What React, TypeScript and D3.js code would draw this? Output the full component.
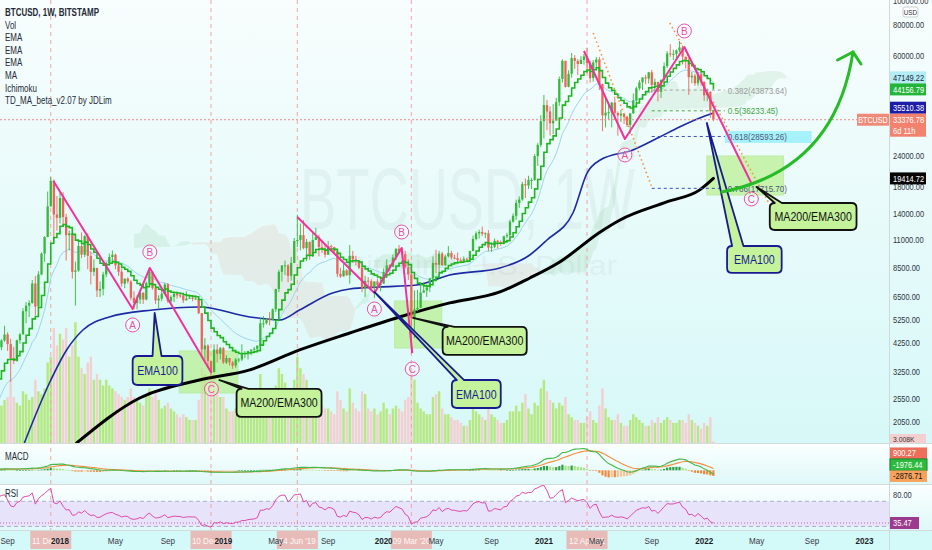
import React from "react";
import * as d3 from "d3";

const FONT = "'Liberation Sans', Arial, sans-serif";
const W = 932;
const H = 550;
const AXIS_X = 889;
const PRICE_BOTTOM = 443;
const MACD_TOP = 444;
const MACD_BOTTOM = 484;
const RSI_TOP = 485;
const RSI_BOTTOM = 530;

const toDate = (s: string) => d3.utcParse("%Y-%m-%d")(s) as Date;

// ---------------- DATA ----------------
// weekly closes before the visible window (used only to warm up indicators)
const historyStart = "2017-01-02";
const historyCloses = [910, 820, 920, 915, 1020, 1000, 1050, 1180, 1270, 1230, 960, 960, 1080, 1190, 1170, 1240, 1340, 1560, 1780, 2050, 2200, 2550, 2950, 2500, 2580, 2500, 2500, 1900, 2750, 2740, 3250, 4050];

// weekly candles [high, low, close]; open = previous close
const start2017 = "2017-08-14";
const hlc2017 = [
  [4480, 3950, 4090], [4400, 3980, 4350], [4980, 4300, 4600], [4690, 3950, 4210], [4420, 2970, 3690],
  [4100, 3500, 3600], [4380, 3580, 4360], [4660, 4220, 4600], [5860, 4600, 5700], [6200, 5100, 6000],
  [6300, 5400, 6150], [7600, 6100, 7360], [7880, 5500, 5950], [8250, 5850, 8000], [9800, 7950, 9700],
  [11400, 9000, 11300], [17200, 11300, 15000], [19666, 15200, 19000], [19200, 11000, 13900], [16500, 12000, 13500],
];
const vol2017 = [70, 65, 75, 80, 110, 80, 70, 65, 90, 85, 75, 80, 110, 90, 85, 95, 140, 150, 200, 170];

const start2018 = "2018-01-01";
const hlc2018 = [
  [17200, 12800, 16200], [17100, 12700, 13600], [14000, 9100, 11500], [12000, 10000, 11700], [11800, 7700, 8200],
  [9000, 6000, 8300], [10900, 8200, 10400], [11800, 9300, 9600], [11500, 9400, 11400],
  [11700, 8400, 9500], [9900, 7300, 8200], [9200, 7900, 8500], [8500, 6500, 6900],
  [7500, 6500, 7000], [8200, 6600, 8000], [9000, 7800, 8900], [9700, 8700, 9400], [9990, 9000, 9600],
  [9700, 8400, 8700], [8900, 7900, 8200], [8400, 7150, 7350], [7700, 7050, 7700],
  [7800, 7350, 7500], [7600, 6300, 6450], [6850, 5800, 6150], [6600, 5800, 6350],
  [6900, 6100, 6750], [6800, 6100, 6350], [7500, 6300, 7400], [8500, 7400, 8200], [8250, 6950, 7050],
  [7150, 6100, 6300], [6600, 5850, 6400], [6900, 6250, 6700], [7400, 6700, 7300],
  [7400, 6150, 6250], [6600, 6150, 6500], [6800, 6200, 6700], [6800, 6400, 6600],
  [6700, 6450, 6570], [6700, 6150, 6300], [6850, 6300, 6400], [6550, 6400, 6450], [6500, 6250, 6400],
  [6600, 6350, 6400], [6500, 5550, 5600], [5600, 3700, 4000], [4450, 3600, 4150],
  [4200, 3400, 3600], [3600, 3120, 3250], [4200, 3250, 4000], [4200, 3550, 3850], [4100, 3650, 4050],
];
const vol2018 = [190, 180, 200, 150, 170, 210, 150, 130, 120, 140, 150, 110, 120, 110, 100, 110, 100, 95, 90, 85, 80, 75, 80, 95, 80, 75, 70, 65, 85, 95, 80, 90, 75, 60, 65, 70, 60, 55, 50, 45, 50, 45, 40, 40, 40, 75, 130, 120, 110, 120, 130, 100, 80];

const start2019 = "2019-01-07";
const hlc2019 = [
  [4100, 3500, 3550], [3800, 3500, 3700], [3700, 3450, 3550], [3600, 3350, 3450],
  [3700, 3380, 3650], [3700, 3550, 3650], [4200, 3600, 3850], [3950, 3700, 3860],
  [3950, 3650, 3950], [4000, 3800, 4000], [4100, 3900, 4030], [4150, 3950, 4150],
  [5350, 4100, 5100], [5450, 4900, 5100], [5350, 5050, 5300], [5650, 5000, 5250], [5850, 5250, 5800],
  [7000, 5650, 7000], [8350, 6800, 8200], [8700, 7500, 8700], [9100, 7950, 8700],
  [8800, 7450, 7900], [9400, 7550, 8900], [11200, 8900, 10900], [13880, 10300, 11000],
  [12800, 10000, 11500], [13200, 10100, 10200], [11100, 9050, 10800], [10850, 9150, 9500], [11900, 9400, 11000],
  [12300, 11000, 11300], [11550, 9450, 10300], [10950, 9750, 10100], [10600, 9350, 9600],
  [10900, 9600, 10400], [10550, 9900, 10300], [10300, 9650, 9900], [10100, 7800, 8050], [8500, 7750, 7860],
  [8800, 7850, 8300], [8400, 7900, 7950], [10500, 7350, 9500], [9950, 8900, 9200],
  [9500, 8700, 9050], [9100, 8400, 8500], [8600, 6800, 7050], [7900, 6500, 7550],
  [7800, 7200, 7520], [7650, 7000, 7080], [7500, 6430, 7500], [7700, 7100, 7250], [7800, 6850, 7350],
];
const vol2019 = [80, 60, 55, 55, 60, 55, 75, 65, 55, 50, 50, 50, 120, 95, 70, 70, 75, 100, 130, 120, 105, 95, 85, 110, 150, 130, 120, 110, 85, 90, 85, 75, 65, 60, 60, 55, 50, 90, 75, 60, 55, 95, 70, 60, 55, 90, 85, 60, 55, 60, 50, 55];

const start2020 = "2020-01-06";
const hlc2020 = [
  [8450, 7700, 8180], [9200, 8100, 8700], [8800, 8250, 8600], [9600, 8550, 9350],
  [10150, 9150, 10150], [10500, 9700, 9900], [10250, 9300, 9650], [9950, 8450, 8550],
  [9200, 7600, 8000], [8150, 3850, 5350], [6900, 4450, 5800], [6950, 5700, 5880], [7250, 5900, 6770],
  [7450, 6750, 6900], [7300, 6500, 7100], [7750, 6800, 7700], [9450, 7600, 8900],
  [10050, 8100, 8750], [9950, 8200, 9700], [9850, 8650, 8720], [9600, 8650, 9450],
  [10400, 9350, 9750], [9950, 9200, 9350], [9600, 9200, 9300], [9800, 8900, 9130], [9350, 8950, 9070],
  [9450, 9050, 9250], [9350, 9000, 9170], [9950, 9150, 9930], [11450, 9950, 11100],
  [11900, 10950, 11680], [12100, 11150, 11850], [12450, 11400, 11650], [11800, 11200, 11700], [12050, 9900, 10250],
  [10650, 9850, 10330], [11150, 10200, 10920], [11000, 10150, 10780], [10950, 10400, 10680],
  [11450, 10550, 11380], [11750, 11200, 11500], [13250, 11350, 13030], [14050, 12900, 13750],
  [15950, 13250, 15480], [16450, 14800, 15980], [18800, 15800, 18420], [19400, 16200, 18200], [19900, 17600, 19150],
  [19450, 17600, 19150], [24300, 19000, 23850], [26900, 21800, 26450], [34800, 25900, 32900],
];
const vol2020 = [70, 60, 50, 60, 65, 60, 55, 75, 80, 130, 110, 70, 60, 55, 50, 50, 80, 85, 90, 60, 50, 50, 45, 40, 40, 35, 30, 30, 40, 75, 55, 50, 45, 40, 60, 50, 45, 40, 35, 35, 40, 55, 55, 65, 55, 70, 85, 60, 50, 70, 65, 95];

const start2021 = "2021-01-04";
const hlc2021 = [
  [41950, 28100, 38200], [40100, 30300, 36000], [37800, 28850, 32300], [38500, 29250, 33100],
  [40900, 33400, 39250], [49700, 37900, 48600], [58300, 47000, 57500], [57500, 44900, 45200],
  [52600, 45000, 51000], [61800, 49200, 59000], [60600, 53300, 57400], [58400, 50400, 55800], [60000, 56700, 58000],
  [61200, 55500, 59800], [64900, 51200, 56200], [57500, 47000, 49000], [57900, 47400, 56600],
  [59500, 53000, 58200], [59600, 43900, 46400], [46600, 30000, 34700], [40800, 31100, 35600], [39400, 33400, 35800],
  [39300, 31100, 39100], [41300, 33300, 35500], [36000, 28800, 34700], [36600, 32700, 35300],
  [35100, 32100, 34250], [34600, 31200, 31800], [35400, 29300, 35400], [42500, 35200, 39900],
  [45300, 37400, 44600], [48100, 43800, 47100], [49300, 43900, 49300], [50500, 46300, 48800], [51900, 46600, 51700],
  [52900, 42800, 46000], [48800, 43400, 47300], [47400, 39600, 43200], [48400, 40800, 48200],
  [56600, 47200, 54700], [62900, 53900, 61500], [67000, 59600, 61000], [63700, 57900, 61300],
  [63800, 58300, 63300], [69000, 62300, 65000], [66300, 55600, 59700], [59400, 53600, 57300], [59200, 42000, 49400],
  [51900, 46700, 50100], [51000, 45600, 46700], [51900, 45600, 50800], [52100, 45700, 47300],
];
const vol2021 = [110, 90, 75, 70, 60, 70, 65, 80, 50, 45, 40, 40, 35, 35, 45, 55, 40, 35, 65, 95, 60, 45, 40, 40, 50, 35, 30, 30, 40, 50, 45, 40, 35, 30, 30, 40, 35, 45, 35, 40, 45, 40, 35, 35, 40, 40, 35, 50, 40, 35, 30, 25];

const start2022 = "2022-01-03";
const hlc2022 = [[47600, 39700, 41800], [44500, 39600, 43100], [43500, 34000, 36300], [36600, 32900, 33376.78]];
const vol2022 = [35, 30, 45, 3.008];

// long moving averages: [week, value]
const ema100Points: [string, number][] = [
  ["2017-10-12", 1690], ["2017-12-08", 2939], ["2018-01-16", 3986], ["2018-02-22", 4793], ["2018-04-23", 5405],
  ["2018-07-30", 5764], ["2018-11-14", 5926], ["2019-03-08", 5405], ["2019-05-15", 5256], ["2019-06-29", 5764],
  ["2019-09-12", 6740], ["2019-10-21", 6999], ["2019-12-28", 7130], ["2020-03-21", 7259], ["2020-06-04", 7960],
  ["2020-09-26", 8495], ["2020-12-03", 9577], ["2021-01-11", 11001], ["2021-03-11", 14112], ["2021-04-12", 20408],
  ["2021-05-12", 23015], ["2021-07-25", 25236], ["2021-09-24", 28460], ["2021-11-08", 31213], ["2021-12-24", 33913],
  ["2022-01-24", 35510],
];
const ma200Points: [string, number][] = [
  ["2018-02-08", 1690], ["2018-07-01", 2559], ["2018-11-14", 3020], ["2019-03-08", 3316], ["2019-06-29", 3986],
  ["2019-10-21", 4662], ["2020-02-11", 5405], ["2020-06-04", 6153], ["2020-09-26", 6808], ["2020-12-03", 7745],
  ["2021-02-09", 8978], ["2021-05-12", 11843], ["2021-06-26", 13232], ["2021-10-10", 15625], ["2021-12-24", 17467],
  ["2022-01-24", 19414.72],
];

// ABC waves [week, price]
const waveLetters = ["", "A", "B", "C"];
const wave2018: [string, number][] = [["2017-12-17", 18957], ["2018-06-15", 5818], ["2018-07-24", 8494], ["2018-12-11", 3223]];
const wave2020: [string, number][] = [["2019-06-24", 13596], ["2019-12-16", 6740], ["2020-02-16", 10214], ["2020-03-11", 3876]];
const wave2022: [string, number][] = [["2021-04-05", 62940], ["2021-07-07", 27940], ["2021-11-19", 65300], ["2022-04-20", 18617]];

const fibTrend1: [string, number][] = [["2021-04-26", 74302], ["2021-09-06", 17937]];
const fibTrend2: [string, number][] = [["2021-10-17", 81490], ["2022-07-05", 11843]];
const fibRange = ["2021-09-06", "2022-02-19"];
const fibLevels = [0.382, 0.5, 0.618, 0.786];
const fibPrices = [43873.64, 36233.45, 28593.26, 17715.7];
const fibHighlight: [string, number][] = [["2022-02-19", 30075], ["2022-09-04", 26926]];

const zones: [string, number, string, number][] = [
  ["2018-09-29", 3949, "2019-02-09", 2680],
  ["2020-01-31", 6263, "2020-05-17", 4059],
  ["2022-01-09", 23880, "2022-07-02", 16660],
];

const callouts = [
  { text: "EMA100", kind: "ema", box: ["2018-06-15", 3770, "2018-10-06", 2885], tip: ["2018-08-04", 5606], base: [0.4, 0.58] },
  { text: "MA200/EMA300", kind: "ma", box: ["2019-02-06", 2782, "2019-08-18", 2148], tip: ["2018-12-29", 3020], base: [0, 0.14] },
  { text: "MA200/EMA300", kind: "ma", box: ["2020-05-19", 4928, "2020-11-26", 3806], tip: ["2020-03-13", 5354], base: [0, 0.14] },
  { text: "EMA100", kind: "ema", box: ["2020-06-09", 3020, "2020-09-28", 2333], tip: ["2019-12-16", 6808], base: [0, 0.25] },
  { text: "EMA100", kind: "ema", box: ["2022-02-24", 10406, "2022-06-28", 8112], tip: ["2022-01-09", 32376], base: [0.05, 0.3] },
  { text: "MA200/EMA300", kind: "ma", box: ["2022-06-01", 15477, "2022-12-15", 12063], tip: ["2022-05-02", 17937], base: [0, 0.14] },
];

const arrowCurve: [string, number][] = [["2022-02-12", 17132], ["2022-10-27", 20986], ["2022-12-07", 62350]];
const arrowWings: [string, number][] = [["2022-11-02", 57930], ["2022-12-25", 55830]];

const markerDates = ["2017-12-11", "2018-12-10", "2019-06-24", "2020-03-09", "2021-04-12"];
const markerLabels = ["11 Dec '17", "10 Dec '18", "24 Jun '19", "09 Mar '20", "12 Apr '21"];

const tickDates = ["2017-09-04", "2018-01-01", "2018-05-07", "2018-09-03", "2019-01-07", "2019-05-06", "2019-09-02", "2020-01-06", "2020-05-04", "2020-09-07", "2021-01-04", "2021-05-03", "2021-09-06", "2022-01-03", "2022-05-02", "2022-09-05", "2023-01-02"];
const tickLabels = ["Sep", "2018", "May", "Sep", "2019", "May", "Sep", "2020", "May", "Sep", "2021", "May", "Sep", "2022", "May", "Sep", "2023"];

const priceTicks = [100000, 80000, 60000, 24000, 18000, 14000, 11000, 8500, 6500, 5250, 4250, 3250, 2550, 2050];

const priceTags = [
  { v: 47149.22, bg: "#b4ecf4", fg: "#1b2a3a", sub: "" },
  { v: 44156.79, bg: "#22b53a", fg: "#ffffff", sub: "" },
  { v: 35510.38, bg: "#1c1ca6", fg: "#ffffff", sub: "" },
  { v: 33376.78, bg: "#f2826e", fg: "#ffffff", sub: "6d 11h" },
  { v: 19414.72, bg: "#050505", fg: "#ffffff", sub: "" },
];
const macdTags = [
  { v: 900.27, bg: "#ef6e5a", fg: "#ffffff" },
  { v: -1976.44, bg: "#2dbb3e", fg: "#ffffff" },
  { v: -2876.71, bg: "#f6a25c", fg: "#111111" },
];
const legendLines = ["BTCUSD, 1W, BITSTAMP", "Vol", "EMA", "EMA", "EMA", "MA", "Ichimoku", "TD_MA_beta_v2.07 by JDLim"];

// ---------------- BUILD ----------------
type Bar = { date: Date; o: number; h: number; l: number; c: number; v: number; vis: boolean };
const blocks = [
  { start: start2017, rows: hlc2017, vol: vol2017 },
  { start: start2018, rows: hlc2018, vol: vol2018 },
  { start: start2019, rows: hlc2019, vol: vol2019 },
  { start: start2020, rows: hlc2020, vol: vol2020 },
  { start: start2021, rows: hlc2021, vol: vol2021 },
  { start: start2022, rows: hlc2022, vol: vol2022 },
];

function buildBars(): Bar[] {
  const bars: Bar[] = [];
  const hs = toDate(historyStart);
  historyCloses.forEach((c, i) => {
    const o = i > 0 ? historyCloses[i - 1] : c;
    bars.push({ date: d3.utcDay.offset(hs, 7 * i), o, h: Math.max(o, c), l: Math.min(o, c), c, v: 0, vis: false });
  });
  blocks.forEach((blk) => {
    const s = toDate(blk.start);
    blk.rows.forEach((r, i) => {
      const o = bars[bars.length - 1].c;
      bars.push({
        date: d3.utcDay.offset(s, 7 * i), o,
        h: Math.max(r[0], o, r[2]), l: Math.min(r[1], o, r[2]), c: r[2],
        v: blk.vol[i] ?? 0, vis: true,
      });
    });
  });
  return bars;
}

function ema(vals: number[], n: number) {
  const k = 2 / (n + 1);
  const out: number[] = [];
  vals.forEach((v, i) => out.push(i === 0 ? v : v * k + out[i - 1] * (1 - k)));
  return out;
}
function rsiCalc(vals: number[], n: number) {
  const out = vals.map(() => NaN);
  let ag = 0, al = 0;
  for (let i = 1; i < vals.length; i++) {
    const d = vals[i] - vals[i - 1];
    const g = Math.max(d, 0), l = Math.max(-d, 0);
    if (i <= n) {
      ag += g / n; al += l / n;
      if (i === n) out[i] = 100 - 100 / (1 + ag / (al || 1e-9));
    } else {
      ag = (ag * (n - 1) + g) / n; al = (al * (n - 1) + l) / n;
      out[i] = al === 0 ? 100 : 100 - 100 / (1 + ag / al);
    }
  }
  return out;
}

const x = d3.scaleUtc().domain([toDate("2018-01-01"), toDate("2023-01-01")]).range([60, 864]);
const y = d3.scaleLog().domain([80000, 2050]).range([25, 422]);
const yVol = d3.scaleLinear().domain([0, 200]).range([PRICE_BOTTOM, 328]);
const yMacd = d3.scaleLinear().domain([-7000, 13500]).range([MACD_BOTTOM, MACD_TOP]);
const yRsi = d3.scaleLinear().domain([80, 30]).range([495, 526.45]);

const P = (p: [string, number]) => [x(toDate(p[0])), y(p[1])] as [number, number];

function T(props: any) {
  const { x: tx, y: ty, s = 10, sx = 0.8, anchor = "start", fill = "#2a2e39", weight = 400, children, opacity } = props;
  return (
    <text transform={`translate(${tx},${ty}) scale(${sx},1)`} fontSize={s} textAnchor={anchor} fill={fill}
      fontWeight={weight} fontFamily={FONT} opacity={opacity}>{children}</text>
  );
}

function stackTags(items: { top: number; h: number }[]) {
  const order = items.map((_, i) => i).sort((a, b) => items[b].top - items[a].top);
  let limit = Infinity;
  order.forEach((i) => {
    const it = items[i];
    if (it.top + it.h > limit) it.top = limit - it.h;
    limit = it.top;
  });
  return items;
}

function calloutPath(x0: number, y0: number, x1: number, y1: number, ax: number, ay: number, b0: number, b1: number) {
  const r = 5;
  const bx0 = Math.max(x0 + r, x0 + b0 * (x1 - x0));
  const bx1 = Math.max(bx0 + 4, x0 + b1 * (x1 - x0));
  return `M${x0 + r},${y0} L${bx0},${y0} L${ax},${ay} L${bx1},${y0} L${x1 - r},${y0} Q${x1},${y0} ${x1},${y0 + r} L${x1},${y1 - r} Q${x1},${y1} ${x1 - r},${y1} L${x0 + r},${y1} Q${x0},${y1} ${x0},${y1 - r} L${x0},${y0 + r} Q${x0},${y0} ${x0 + r},${y0} Z`;
}

export default function App() {
  const bars = buildBars();
  const closes = bars.map((b) => b.c);
  const visIdx = bars.map((b, i) => (b.vis ? i : -1)).filter((i) => i >= 0);
  const ema21 = ema(closes, 21);
  const ema10 = ema(closes, 10);
  const e12 = ema(closes, 12);
  const e26 = ema(closes, 26);
  const macd = closes.map((_, i) => e12[i] - e26[i]);
  const signal = ema(macd, 9);
  const hist = macd.map((m, i) => m - signal[i]);
  const rsi = rsiCalc(closes, 14);

  // Ichimoku cloud
  const cloudPts: { date: Date; a: number; b: number }[] = [];
  for (let i = 51; i < bars.length; i++) {
    const win = (n: number) => {
      const s = bars.slice(i - n + 1, i + 1);
      return (d3.max(s, (b) => b.h)! + d3.min(s, (b) => b.l)!) / 2;
    };
    const a = (win(9) + win(26)) / 2;
    const b = win(52);
    cloudPts.push({ date: d3.utcDay.offset(bars[0].date, 7 * (i + 25)), a, b });
  }
  const runs: { up: boolean; pts: { date: Date; a: number; b: number }[] }[] = [];
  let cur: any = null;
  cloudPts.forEach((p, k) => {
    const up = p.a >= p.b;
    if (!cur) { cur = { up, pts: [p] }; runs.push(cur); return; }
    if (up === cur.up) { cur.pts.push(p); return; }
    const q = cloudPts[k - 1];
    const d1 = q.a - q.b, d2 = p.a - p.b;
    const t = d1 / (d1 - d2);
    const cross = { date: new Date(q.date.getTime() + t * (p.date.getTime() - q.date.getTime())), a: q.a + t * (p.a - q.a), b: q.b + t * (p.b - q.b) };
    cur.pts.push(cross);
    cur = { up, pts: [cross, p] };
    runs.push(cur);
  });
  const cloudArea = d3.area<{ date: Date; a: number; b: number }>().x((d) => x(d.date)).y0((d) => y(d.a)).y1((d) => y(d.b));

  const visLine = (vals: number[]) =>
    d3.line<number>().x((i) => x(bars[i].date)).y((i) => y(vals[i]))(visIdx) || "";
  const stepLine = d3.line<number>().x((i) => x(bars[i].date)).y((i) => y(ema10[i])).curve(d3.curveStepAfter)(visIdx) || "";
  const smooth = (pts: [string, number][]) =>
    d3.line<[string, number]>().x((p) => x(toDate(p[0]))).y((p) => y(p[1])).curve(d3.curveMonotoneX)(pts) || "";
  const poly = (pts: [string, number][]) => d3.line<[string, number]>().x((p) => x(toDate(p[0]))).y((p) => y(p[1]))(pts) || "";

  const macdLine = (vals: number[]) => d3.line<number>().x((i) => x(bars[i].date)).y((i) => yMacd(vals[i]))(visIdx) || "";
  const rsiLine = d3.line<number>().x((i) => x(bars[i].date)).y((i) => yRsi(rsi[i]))(visIdx) || "";

  const UP = "#36b93b";
  const DOWN = "#ef6459";
  const PINK = "#f0329c";

  const lastPrice = 33376.78;
  const tagItems = stackTags(priceTags.map((t) => (t.sub ? { top: y(t.v) - 6, h: 23 } : { top: y(t.v) - 6, h: 12 })));
  const macdItems = stackTags(macdTags.map((t) => ({ top: yMacd(t.v) - 5.5, h: 11.5 })));

  const waves = [wave2018, wave2020, wave2022];

  const [a0, ac, a1] = arrowCurve.map(P);
  const [w0, w1] = arrowWings.map(P);

  return (
    <svg width={W} height={H} style={{ position: "absolute", left: 0, top: 0, display: "block" }} fontFamily={FONT}>
      <defs>
        <linearGradient id="gPrice" x1="0" y1="0" x2="0" y2="1">
          <stop offset="0" stopColor="#f8fdfd" />
          <stop offset="1" stopColor="#d7f8f8" />
        </linearGradient>
        <linearGradient id="gPane" x1="0" y1="0" x2="0" y2="1">
          <stop offset="0" stopColor="#fbffff" />
          <stop offset="1" stopColor="#dff8f8" />
        </linearGradient>
        <clipPath id="cPrice"><rect x={0} y={0} width={AXIS_X} height={PRICE_BOTTOM} /></clipPath>
        <clipPath id="cMacd"><rect x={0} y={MACD_TOP} width={AXIS_X} height={MACD_BOTTOM - MACD_TOP} /></clipPath>
        <clipPath id="cRsi"><rect x={0} y={RSI_TOP} width={AXIS_X} height={RSI_BOTTOM - RSI_TOP} /></clipPath>
      </defs>

      {/* backgrounds */}
      <rect x={0} y={0} width={W} height={PRICE_BOTTOM} fill="url(#gPrice)" />
      <rect x={0} y={MACD_TOP} width={W} height={MACD_BOTTOM - MACD_TOP} fill="url(#gPane)" />
      <rect x={0} y={RSI_TOP} width={W} height={RSI_BOTTOM - RSI_TOP} fill="url(#gPane)" />
      <rect x={0} y={RSI_BOTTOM} width={W} height={H - RSI_BOTTOM} fill="#d4f9f9" />
      <rect x={0} y={yRsi(70)} width={AXIS_X} height={yRsi(30) - yRsi(70)} fill="#e6e3fa" />

      {/* watermark */}
      <text x={300} y={229} fontSize={88} textLength={335} lengthAdjust="spacingAndGlyphs" fill="#9fb6b6" opacity={0.12}>BTCUSD, 1W</text>
      <text x={345} y={275} fontSize={28} textLength={272} lengthAdjust="spacingAndGlyphs" fill="#9fb6b6" opacity={0.12}>Bitcoin / U.S. Dollar</text>

      <g clipPath="url(#cPrice)">
        {/* ichimoku cloud */}
        {runs.map((r, i) => (
          <path key={i} d={cloudArea(r.pts) || ""} fill={r.up ? "rgba(80,175,90,0.11)" : "rgba(225,120,80,0.10)"} />
        ))}
        {/* volume */}
        {visIdx.map((i) => {
          const b = bars[i];
          const cx = x(b.date);
          return <rect key={i} x={cx - 1.2} width={2.4} y={yVol(b.v)} height={PRICE_BOTTOM - yVol(b.v)} fill={b.c >= b.o ? "#b6e880" : "#f3cfd2"} />;
        })}
        {/* zones */}
        {zones.map((z, i) => {
          const [zx0, zy0] = P([z[0], z[1]]);
          const [zx1, zy1] = P([z[2], z[3]]);
          return <rect key={i} x={zx0} y={zy0} width={zx1 - zx0} height={zy1 - zy0} fill="#b4ef86" opacity={0.65} stroke="#a6e67a" />;
        })}
      </g>

      {/* vertical date markers */}
      {markerDates.map((d, i) => (
        <line key={i} x1={x(toDate(d))} x2={x(toDate(d))} y1={0} y2={RSI_BOTTOM} stroke="#f2a6a6" strokeDasharray="4,4" strokeWidth={1} />
      ))}

      <g clipPath="url(#cPrice)">
        {/* moving averages */}
        <path d={visLine(ema21)} fill="none" stroke="#9dd6ec" strokeWidth={1} />
        <path d={smooth(ma200Points)} fill="none" stroke="#000" strokeWidth={3} strokeLinecap="round" />
        <path d={smooth(ema100Points)} fill="none" stroke="#1c2aa3" strokeWidth={1.6} />
        {/* candles */}
        {visIdx.map((i) => {
          const b = bars[i];
          const cx = x(b.date);
          const col = b.c >= b.o ? UP : DOWN;
          const yo = y(b.o), yc = y(b.c);
          return (
            <g key={i}>
              <line x1={cx} x2={cx} y1={y(b.h)} y2={y(b.l)} stroke={col} strokeWidth={0.9} />
              <rect x={cx - 1.15} width={2.3} y={Math.min(yo, yc)} height={Math.max(1, Math.abs(yo - yc))} fill={col} />
            </g>
          );
        })}
        <path d={stepLine} fill="none" stroke="#1fb51f" strokeWidth={1.6} />

        {/* last price line */}
        <line x1={0} x2={AXIS_X} y1={y(lastPrice)} y2={y(lastPrice)} stroke="#f08a8a" strokeDasharray="2,2" strokeWidth={1} />

        {/* fib trend (orange dotted) */}
        <path d={poly(fibTrend1)} stroke="#f5913e" strokeWidth={1.6} strokeDasharray="1.5,3" fill="none" />
        <path d={poly(fibTrend2)} stroke="#f5913e" strokeWidth={1.6} strokeDasharray="1.5,3" fill="none" />
        {/* fib highlight */}
        {(() => {
          const [hx0, hy0] = P(fibHighlight[0]);
          const [hx1, hy1] = P(fibHighlight[1]);
          return <rect x={hx0} y={hy0} width={hx1 - hx0} height={hy1 - hy0} fill="#a6f2fb" />;
        })()}
        {fibLevels.map((lv, i) => {
          const cols = ["#a3a3a3", "#43ad43", "#3c4fb8", "#3c4fb8"];
          const tcols = ["#9a9a9a", "#3aa33a", "#4c5a78", "#4c5a78"];
          const fx0 = x(toDate(fibRange[0]));
          const fx1 = x(toDate(fibRange[1]));
          const fy = y(fibPrices[i]);
          return (
            <g key={i}>
              <line x1={fx0} x2={fx1} y1={fy} y2={fy} stroke={cols[i]} strokeDasharray="3,3" strokeWidth={1} />
              <T x={fx1 + 3} y={fy + 3.5} s={9.5} sx={0.85} fill={tcols[i]}>{`${lv}(${fibPrices[i].toFixed(2)})`}</T>
            </g>
          );
        })}

        {/* ABC waves */}
        {waves.map((w, wi) => (
          <g key={wi}>
            <path d={poly(w)} fill="none" stroke={PINK} strokeWidth={2} strokeLinejoin="round" />
            {w.map((p, k) => {
              if (!waveLetters[k]) return null;
              const [px, py] = P(p);
              const cy = waveLetters[k] === "B" ? py - 16 : py + 16;
              return (
                <g key={k}>
                  <circle cx={px} cy={cy} r={7} fill="rgba(255,255,255,0.35)" stroke="#ee4fa8" strokeWidth={1} />
                  <text x={px} y={cy + 3.6} fontSize={10} textAnchor="middle" fill="#ee4fa8">{waveLetters[k]}</text>
                </g>
              );
            })}
          </g>
        ))}

        {/* callouts */}
        {callouts.map((c, i) => {
          const [bx0, by0] = P([c.box[0] as string, c.box[1] as number]);
          const [bx1, by1] = P([c.box[2] as string, c.box[3] as number]);
          const [tx, ty] = P([c.tip[0] as string, c.tip[1] as number]);
          const stroke = c.kind === "ema" ? "#1a1a90" : "#111111";
          return (
            <g key={i}>
              <path d={calloutPath(bx0, by0, bx1, by1, tx, ty, c.base[0], c.base[1])} fill="#c4f39c" stroke={stroke} strokeWidth={1.8} strokeLinejoin="round" />
              <T x={(bx0 + bx1) / 2} y={(by0 + by1) / 2 + 4.5} s={12.5} sx={0.85} anchor="middle" fill={stroke}>{c.text}</T>
            </g>
          );
        })}

        {/* green arrow */}
        <path d={`M${a0[0]},${a0[1]} Q${ac[0]},${ac[1]} ${a1[0]},${a1[1]}`} fill="none" stroke="#27bb27" strokeWidth={3} strokeLinecap="round" />
        <path d={`M${w0[0]},${w0[1]} L${a1[0]},${a1[1]} L${w1[0]},${w1[1]}`} fill="none" stroke="#27bb27" strokeWidth={3} strokeLinecap="round" strokeLinejoin="round" />
      </g>

      {/* legend */}
      {legendLines.map((t, i) => (
        <T key={i} x={5} y={16 + i * 12.6} s={10} sx={0.8} weight={i === 0 ? 700 : 400} fill="#252a36">{t}</T>
      ))}

      {/* MACD pane */}
      <g clipPath="url(#cMacd)">
        {visIdx.map((i) => {
          const h = hist[i];
          const prev = hist[i - 1];
          const col = h >= 0 ? (h >= prev ? "#2e9e44" : "#a8e283") : (h < prev ? "#f08a3c" : "#f7c394");
          const y0 = yMacd(0);
          const yh = yMacd(h);
          return <rect key={i} x={x(bars[i].date) - 1.1} width={2.2} y={Math.min(y0, yh)} height={Math.max(0.6, Math.abs(yh - y0))} fill={col} />;
        })}
        <path d={macdLine(signal)} fill="none" stroke="#f48c3e" strokeWidth={1.1} />
        <path d={macdLine(macd)} fill="none" stroke="#42b84a" strokeWidth={1.1} />
      </g>
      <T x={5} y={460} s={10} sx={0.8} fill="#252a36">MACD</T>

      {/* RSI pane */}
      <g clipPath="url(#cRsi)">
        <line x1={0} x2={AXIS_X} y1={yRsi(70)} y2={yRsi(70)} stroke="#b0aec9" strokeDasharray="4,3" />
        <line x1={0} x2={AXIS_X} y1={yRsi(30)} y2={yRsi(30)} stroke="#b0aec9" strokeDasharray="4,3" />
        <line x1={0} x2={AXIS_X} y1={yRsi(35.47)} y2={yRsi(35.47)} stroke="#c764b0" strokeDasharray="1,2" />
        <path d={rsiLine} fill="none" stroke="#e04aa8" strokeWidth={1} />
      </g>
      <T x={5} y={497} s={10} sx={0.8} fill="#252a36">RSI</T>

      {/* separators */}
      <line x1={0} x2={W} y1={PRICE_BOTTOM + 0.5} y2={PRICE_BOTTOM + 0.5} stroke="#d3dcdc" />
      <line x1={0} x2={W} y1={MACD_BOTTOM + 0.5} y2={MACD_BOTTOM + 0.5} stroke="#d3dcdc" />
      <line x1={0} x2={W} y1={RSI_BOTTOM + 0.5} y2={RSI_BOTTOM + 0.5} stroke="#d3dcdc" />
      <line x1={AXIS_X + 0.5} x2={AXIS_X + 0.5} y1={0} y2={H} stroke="#cfd9d9" />

      {/* price axis */}
      {priceTicks.map((v, i) => (
        <T key={i} x={893} y={y(v) + 3.2} s={8.8} sx={0.85} fill="#2f3440">{v.toFixed(2)}</T>
      ))}
      <rect x={903} y={7} width={15} height={10} rx={2} fill="#fff" stroke="#c8d0d0" />
      <T x={910.5} y={14.5} s={7.5} sx={0.85} anchor="middle" fill="#2f3440">USD</T>

      {/* BTCUSD tag left of axis */}
      <rect x={857} y={y(lastPrice) - 6} width={32} height={12} fill="#f08a78" />
      <T x={873} y={y(lastPrice) + 3.3} s={9} sx={0.8} anchor="middle" fill="#fff">BTCUSD</T>

      {priceTags.map((t, i) => {
        const it = tagItems[i];
        return (
          <g key={i}>
            <rect x={890} y={it.top} width={36} height={it.h} fill={t.bg} />
            <T x={893} y={it.top + 9.2} s={8.8} sx={0.85} fill={t.fg}>{t.v.toFixed(2)}</T>
            {t.sub ? <T x={893} y={it.top + 20} s={8.8} sx={0.85} fill={t.fg}>{t.sub}</T> : null}
          </g>
        );
      })}

      {/* volume tag */}
      <rect x={890} y={434} width={36} height={9} fill="#f4cfcf" />
      <T x={893} y={441.5} s={8} sx={0.85} fill="#333">3.008K</T>

      {/* MACD tags */}
      {macdTags.map((t, i) => {
        const it = macdItems[i];
        return (
          <g key={i}>
            <rect x={890} y={it.top} width={37} height={it.h} fill={t.bg} stroke={i === 1 ? "#17862a" : "none"} />
            <T x={893} y={it.top + 8.7} s={8.8} sx={0.85} fill={t.fg}>{t.v.toFixed(2)}</T>
          </g>
        );
      })}

      {/* RSI tags */}
      <T x={893} y={yRsi(80) + 3.2} s={8.8} sx={0.85} fill="#2f3440">80.00</T>
      <rect x={890} y={yRsi(35.47) - 6} width={29} height={12} fill="#9c3a8e" />
      <T x={893} y={yRsi(35.47) + 3.2} s={8.8} sx={0.85} fill="#fff">35.47</T>

      {/* time axis */}
      {markerDates.map((d, i) => {
        const mx = x(toDate(d));
        return (
          <g key={i}>
            <rect x={mx - 20.5} y={531} width={41} height={18} fill="#e9b5b0" opacity={0.9} />
            <T x={mx} y={543.5} s={9.5} sx={0.85} anchor="middle" fill="#fff6f4">{markerLabels[i]}</T>
          </g>
        );
      })}
      {tickDates.map((d, i) => {
        const isYear = /^\d{4}$/.test(tickLabels[i]);
        return (
          <T key={i} x={x(toDate(d))} y={543.5} s={9.5} sx={0.85} anchor="middle" weight={isYear ? 700 : 400} fill={isYear ? "#1a1e28" : "#343a46"}>
            {tickLabels[i]}
          </T>
        );
      })}
    </svg>
  );
}
